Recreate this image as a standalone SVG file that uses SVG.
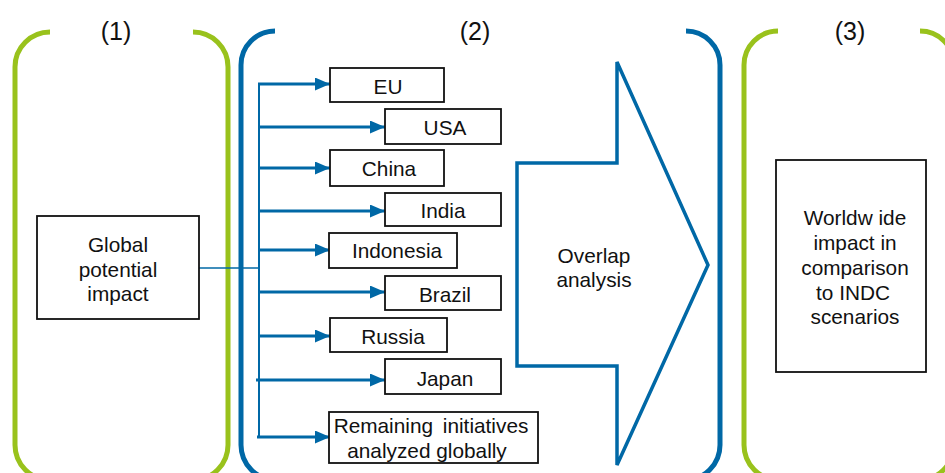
<svg xmlns="http://www.w3.org/2000/svg" width="945" height="473" viewBox="0 0 945 473">
<style>
.g{fill:none;stroke:#99C21C;stroke-width:5}
.b{fill:none;stroke:#0068A6;stroke-width:5}
.box{fill:#fff;stroke:#111;stroke-width:1.8}
.t{font-family:"Liberation Sans",Arial,sans-serif;font-size:20.8px;fill:#111;text-anchor:middle}
.h{font-family:"Liberation Sans",Arial,sans-serif;font-size:25px;fill:#111;text-anchor:middle}
.br{fill:none;stroke:#0068A6;stroke-width:3}
</style>
<defs>
<marker id="ah" markerUnits="userSpaceOnUse" markerWidth="15" markerHeight="13" refX="15" refY="6.5" orient="auto">
<path d="M0,0 L15,6.5 L0,13 z" fill="#0068A6"/>
</marker>
</defs>
<rect width="945" height="473" fill="#fff"/>
<g id="phase1">
<path class="g" d="M50,32 A35,35 0 0 0 15,67 V445 A35,35 0 0 0 50,480 H193 A35,35 0 0 0 228,445 V67 A35,35 0 0 0 193,32"/>
<text class="h" x="116" y="40">(1)</text>
</g>
<g id="phase2">
<path class="b" d="M275,31 A34,34 0 0 0 241,65 V445 A35,35 0 0 0 276,480 H685 A35,35 0 0 0 720,445 V65 A34,34 0 0 0 686,31"/>
<text class="h" x="475" y="40">(2)</text>
</g>
<g id="phase3">
<path class="g" d="M778,31 A34,34 0 0 0 744,65 V445 A35,35 0 0 0 779,480 H919 A35,35 0 0 0 954,445 V65 A34,34 0 0 0 920,31"/>
<text class="h" x="850" y="40">(3)</text>
</g>
<g id="connectors">
<line x1="199" y1="268" x2="259" y2="268" stroke="#0068A6" stroke-width="1.6"/>
<line x1="259" y1="84" x2="259" y2="437" stroke="#0068A6" stroke-width="2"/>
<line class="br" x1="258" y1="84" x2="330" y2="84" marker-end="url(#ah)"/>
<line class="br" x1="258" y1="127" x2="385" y2="127" marker-end="url(#ah)"/>
<line class="br" x1="258" y1="168" x2="330" y2="168" marker-end="url(#ah)"/>
<line class="br" x1="258" y1="211" x2="385" y2="211" marker-end="url(#ah)"/>
<line class="br" x1="258" y1="250" x2="330" y2="250" marker-end="url(#ah)"/>
<line class="br" x1="258" y1="292" x2="385" y2="292" marker-end="url(#ah)"/>
<line class="br" x1="258" y1="336" x2="330" y2="336" marker-end="url(#ah)"/>
<line class="br" x1="256" y1="380" x2="385" y2="380" marker-end="url(#ah)"/>
<line class="br" x1="257" y1="437" x2="330" y2="437" marker-end="url(#ah)"/>
</g>
<g id="global">
<rect class="box" x="37" y="216" width="162" height="103"/>
<text class="t" x="118" y="252">Global</text>
<text class="t" x="118" y="277">potential</text>
<text class="t" x="118" y="301">impact</text>
</g>
<g id="eu"><rect class="box" x="330" y="68" width="114" height="34"/><text class="t" x="388" y="94">EU</text></g>
<g id="usa"><rect class="box" x="385" y="109" width="116" height="35"/><text class="t" x="445" y="135">USA</text></g>
<g id="china"><rect class="box" x="330" y="150" width="114" height="36"/><text class="t" x="389" y="176">China</text></g>
<g id="india"><rect class="box" x="385" y="193" width="116" height="33"/><text class="t" x="443" y="218">India</text></g>
<g id="indonesia"><rect class="box" x="329" y="233" width="128" height="35"/><text class="t" x="397" y="258">Indonesia</text></g>
<g id="brazil"><rect class="box" x="385" y="276" width="116" height="34"/><text class="t" x="445" y="302">Brazil</text></g>
<g id="russia"><rect class="box" x="330" y="318" width="117" height="34"/><text class="t" x="393" y="344">Russia</text></g>
<g id="japan"><rect class="box" x="385" y="359" width="116" height="35"/><text class="t" x="445" y="386">Japan</text></g>
<g id="remaining"><rect class="box" x="329" y="412" width="209" height="51"/>
<text class="t" x="431" y="433" word-spacing="4">Remaining initiatives</text>
<text class="t" x="427" y="458">analyzed globally</text></g>
<g id="overlap">
<polygon points="517,163 617,163 617,62 708,265 617,465 617,366 517,366" fill="#fff" stroke="#0068A6" stroke-width="3.5" stroke-linejoin="miter"/>
<text class="t" x="594" y="263">Overlap</text>
<text class="t" x="594" y="287">analysis</text>
</g>
<g id="worldwide">
<rect class="box" x="776" y="160" width="150" height="212"/>
<text class="t" x="855" y="225">Worldw ide</text>
<text class="t" x="855" y="250">impact in</text>
<text class="t" x="855" y="275">comparison</text>
<text class="t" x="853" y="300">to INDC</text>
<text class="t" x="855" y="324">scenarios</text>
</g>
</svg>
